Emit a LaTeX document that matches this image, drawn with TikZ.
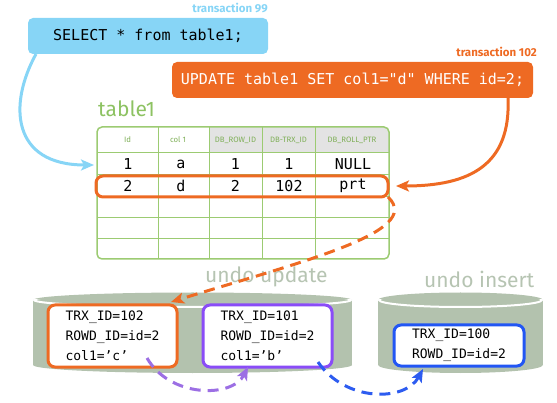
\documentclass[tikz,border=0pt]{standalone}
\usepackage{fontspec}
\setmainfont{Fira Sans}
\setmonofont{DejaVu Sans Mono}
\usetikzlibrary{arrows.meta}
\definecolor{skyb}{HTML}{87D5F6}
\definecolor{orng}{HTML}{EE6A23}
\definecolor{tgreen}{HTML}{9CCB72}
\definecolor{tgtext}{HTML}{8DC262}
\definecolor{hgray}{HTML}{E3E3E3}
\definecolor{cyl}{HTML}{B3C2AE}
\definecolor{undotxt}{HTML}{B6C4B2}
\definecolor{purp}{HTML}{8A4CF7}
\definecolor{purpar}{HTML}{9C6FE4}
\definecolor{blu}{HTML}{2256F4}
\definecolor{bluar}{HTML}{2D5CF0}
\tikzset{
  sqlbox/.style={rounded corners=5pt, inner sep=0pt, minimum height=36pt,
    font=\ttfamily\fontsize{15}{18}\selectfont},
  celltxt/.style={font=\ttfamily\fontsize{15}{18}\selectfont, inner sep=0pt},
  headtxt/.style={font=\fontsize{7.8}{9}\selectfont, text=tgtext!90!black, inner sep=0pt},
  undobox/.style={draw, line width=3pt, fill=white, rounded corners=7pt, inner sep=0pt,
    align=left, font=\ttfamily\fontsize{13}{20}\selectfont},
  bigtitle/.style={font=\fontsize{21}{24}\selectfont, inner sep=0pt},
  translbl/.style={font=\bfseries\fontsize{11.5}{13}\selectfont, inner sep=0pt},
  arr/.style={line width=3pt, -{Stealth[length=13pt,width=11pt,inset=3pt]}},
  darr/.style={arr, dash pattern=on 11pt off 7pt},
}
\begin{document}
\begin{tikzpicture}[x=1pt,y=-1pt]
\useasboundingbox (0,0) rectangle (557,403);

% transaction labels and SQL boxes
\node[translbl, text=skyb, anchor=east] (t99) at (268,8) {transaction 99};
\node[sqlbox, fill=skyb, minimum width=240pt] (sel) at (148,36) {SELECT * from table1;};
\node[translbl, text=orng, anchor=east] (t102) at (537,52) {transaction 102};
\node[sqlbox, fill=orng, text=white, minimum width=361pt] (upd) at (352.5,80) {UPDATE table1 SET col1="d" WHERE id=2;};

% table title
\node[bigtitle, text=tgtext, anchor=west] (ttl) at (98,109) {table1};

% table
\begin{scope}
  \clip[rounded corners=5pt] (97,127) rectangle (389,259);
  \fill[hgray] (209,127) rectangle (389,153);
\end{scope}
\draw[tgreen, line width=1pt] (158,127) -- (158,259) (209,127) -- (209,259)
  (262,127) -- (262,259) (315,127) -- (315,259);
\draw[tgreen, line width=1pt] (97,153) -- (389,153) (97,175) -- (389,175)
  (97,197) -- (389,197) (97,218) -- (389,218) (97,239) -- (389,239);
\draw[tgreen, line width=1.5pt, rounded corners=5pt] (97,127) rectangle (389,259);

\node[headtxt] (h1) at (127.5,140) {Id};
\node[headtxt] (h2) at (178,140) {col 1};
\node[headtxt] (h3) at (235.5,140) {DB\_ROW\_ID};
\node[headtxt] (h4) at (288.5,140) {DB-TRX\_ID};
\node[headtxt] (h5) at (352,140) {DB\_ROLL\_PTR};

\node[celltxt] (a1) at (128,164) {1};
\node[celltxt] (a2) at (181,164) {a};
\node[celltxt] (a3) at (235.5,164) {1};
\node[celltxt] (a4) at (289,164) {1};
\node[celltxt] (a5) at (353,164) {NULL};
\node[celltxt] (b1) at (128,186) {2};
\node[celltxt] (b2) at (181,186) {d};
\node[celltxt] (b3) at (235.5,186) {2};
\node[celltxt] (b4) at (289,186) {102};
\node[celltxt] (b5) at (353,186) {prt};

\node[draw=orng, line width=3pt, rounded corners=7pt, minimum width=292pt,
  minimum height=21pt, inner sep=0pt] (row2) at (242,186.5) {};
\coordinate (r1in) at (94,165);

% cylinders
\fill[cyl] (33,300) rectangle (352,365);
\fill[cyl] (192.5,365) ellipse [x radius=159.5, y radius=8];
\fill[cyl] (192.5,300) ellipse [x radius=159.5, y radius=7.5];
\begin{scope}
  \clip (30,300) rectangle (355,320);
  \draw[white, line width=2pt] (192.5,300) ellipse [x radius=158.5, y radius=7];
\end{scope}
\fill[cyl] (378,300) rectangle (543,365);
\fill[cyl] (460.5,365) ellipse [x radius=82.5, y radius=8];
\fill[cyl] (460.5,300) ellipse [x radius=82.5, y radius=7.5];
\begin{scope}
  \clip (375,300) rectangle (546,320);
  \draw[white, line width=2pt] (460.5,300) ellipse [x radius=81.5, y radius=7];
\end{scope}

\node[bigtitle, text=undotxt, anchor=west] (uu) at (205,277) {undo update};
\node[bigtitle, text=undotxt, anchor=west] (ui) at (424,279) {undo insert};

% undo records
\node[undobox, draw=orng, minimum width=129pt, minimum height=62pt] (box102) at (112.5,336)
  {TRX\_ID=102\\ROWD\_ID=id=2\\col1=’c’};
\node[undobox, draw=purp, minimum width=129pt, minimum height=62pt] (box101) at (267.5,336)
  {TRX\_ID=101\\ROWD\_ID=id=2\\col1=’b’};
\node[undobox, draw=blu, minimum width=130pt, minimum height=41pt] (box100) at (459,345.5)
  {TRX\_ID=100\\ROWD\_ID=id=2};

% connectors
\coordinate (selout) at (36,54);
\draw[arr, skyb] (selout) .. controls (8,105) and (12,165) .. (r1in);
\coordinate (updout) at (508,98);
\coordinate (row2in) at (396,186);
\draw[arr, orng] (updout) .. controls (511,165) and (470,186) .. (row2in);
\coordinate (row2out) at (388,197);
\coordinate (b102in) at (171,302);
\draw[darr, orng] (row2out) .. controls (425,232) and (300,262) .. (b102in);
\coordinate (b102out) at (147,358);
\coordinate (b101in) at (248,367);
\draw[darr, purpar] (b102out) .. controls (170,398) and (232,398) .. (b101in);
\coordinate (b101out) at (318,362);
\coordinate (b100in) at (423,369);
\draw[darr, bluar] (b101out) .. controls (345,402) and (405,402) .. (b100in);
\end{tikzpicture}
\end{document}
